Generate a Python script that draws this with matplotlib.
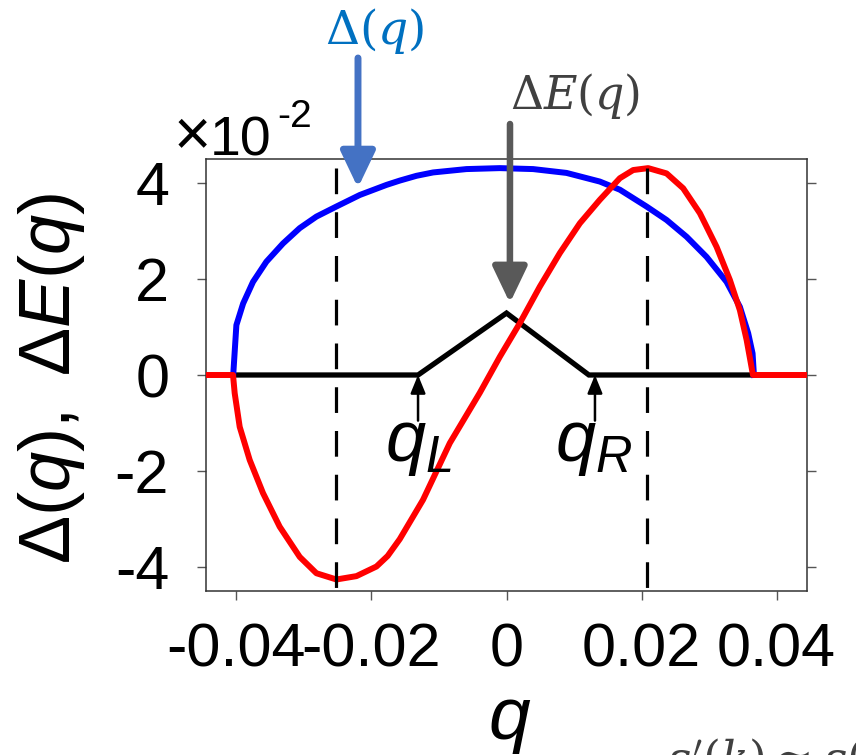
import matplotlib
matplotlib.use("Agg")
import matplotlib.pyplot as plt
from matplotlib.patches import ArrowStyle

plt.rcParams["font.family"] = ["Liberation Sans", "DejaVu Sans"]
plt.rcParams["mathtext.fontset"] = "custom"
plt.rcParams["mathtext.rm"] = "Liberation Sans"
plt.rcParams["mathtext.it"] = "Liberation Sans:italic"
plt.rcParams["mathtext.bf"] = "Liberation Sans:bold"
plt.rcParams["axes.unicode_minus"] = False
plt.rcParams["lines.scale_dashes"] = False

# Gap Delta(q), in units of 1e-2
q_gap = [-0.04047, -0.0400, -0.0390, -0.03754, -0.03556, -0.0331, -0.03062,
         -0.02815, -0.02519, -0.02173, -0.01778, -0.01581, -0.01333, -0.01087,
         -0.00593, -0.00099, 0.00394, 0.00889, 0.01382, 0.01679, 0.02074,
         0.0237, 0.02667, 0.02963, 0.03259, 0.03456, 0.03579, 0.03644, 0.03664]
gap = [0.0, 1.04, 1.49, 1.94, 2.36, 2.74, 3.06, 3.30, 3.51, 3.75, 3.96, 4.05,
       4.15, 4.22, 4.29, 4.31, 4.29, 4.21, 4.03, 3.86, 3.51, 3.23, 2.88, 2.46,
       1.94, 1.42, 0.87, 0.45, 0.0]

# Red curve, in units of 1e-2
q_red = [-0.0450, -0.0405, -0.04025, -0.03951, -0.03803, -0.03606, -0.03359,
         -0.03062, -0.02815, -0.02519, -0.02222, -0.01926, -0.0176, -0.01581,
         -0.01236, -0.0084, -0.00395, -0.00099, 0.00197, 0.00493, 0.0079,
         0.01086, 0.01382, 0.01679, 0.01876, 0.02098, 0.0237, 0.02616, 0.02864,
         0.03111, 0.03308, 0.03456, 0.03556, 0.0365, 0.0450]
red = [0.0, 0.0, -0.38, -1.08, -1.77, -2.46, -3.16, -3.79, -4.13, -4.26, -4.19,
       -3.99, -3.77, -3.42, -2.60, -1.42, -0.37, 0.38, 1.08, 1.84, 2.54, 3.16,
       3.65, 4.10, 4.27, 4.31, 4.20, 3.89, 3.37, 2.67, 1.98, 1.35, 0.73, 0.0,
       0.0]

# Energy difference Delta E(q), in units of 1e-2
q_de = [-0.0405, -0.0131, 0.0, 0.0122, 0.0363]
de = [0.0, 0.0, 1.29, 0.0, 0.0]

# Positions of the red extrema
q_extrema = [-0.0252, 0.0208]
q_marks = [-0.0131, 0.0131]
mark_labels = ["$q_L$", "$q_R$"]

xticks = [-0.04, -0.02, 0, 0.02, 0.04]
xticklabels = ["-0.04", "-0.02", "0", "0.02", "0.04"]
yticks = [-4, -2, 0, 2, 4]
yticklabels = ["-4", "-2", "0", "2", "4"]

W, H = 856, 755
fig = plt.figure(figsize=(W / 100, H / 100), dpi=100)
ax = fig.add_axes([206 / W, 1 - 591 / H, 601 / W, 432 / H])

ax.plot(q_de, de, color="black", lw=3.8, zorder=2, solid_joinstyle="miter")
ax.plot(q_gap, gap, color="#0000FF", lw=4.3, zorder=3)
ax.plot(q_red, red, color="#FF0000", lw=4.3, zorder=4)
top = max(red)
for qe in q_extrema:
    ax.plot([qe, qe], [top, -4.5], color="black", lw=2.3, dashes=(18.5, 13),
            zorder=5, clip_on=False)

ax.set_xlim(-0.0445, 0.0445)
ax.set_ylim(-4.5, 4.5)
ax.set_xticks(xticks)
ax.set_xticklabels(xticklabels)
ax.set_yticks(yticks)
ax.set_yticklabels(yticklabels)
ax.tick_params(axis="both", direction="out", length=6.5, width=1.0,
               color="#555555", labelsize=44, top=False, right=True)
ax.tick_params(axis="y", pad=20)
ax.tick_params(axis="x", pad=16)
for sp in ax.spines.values():
    sp.set_color("#333333")
    sp.set_linewidth(1.1)

ax.set_xlabel("$q$", fontsize=54)
ax.xaxis.label.set_va("baseline")
ax.xaxis.set_label_coords((510 - 206) / 601, (591 - 739) / 432)
ax.set_ylabel(r"$\Delta(q),\ \Delta E(q)$", fontsize=52, va="center", ha="center")
ax.yaxis.set_label_coords((52 - 206) / 601, (591 - 378) / 432)

# Exponent of the y axis
fig.text(174 / W, 1 - 155 / H, "\u00d7", fontsize=46, ha="left", va="baseline")
fig.text(210 / W, 1 - 155 / H, "10", fontsize=40, ha="left", va="baseline")
fig.text(277 / W, 1 - 127 / H, "-2", fontsize=28, ha="left", va="baseline")

# q_L, q_R markers
for qm, lab, xl in zip(q_marks, mark_labels, [385, 555]):
    ax.annotate("", xy=(qm, 0), xycoords="data",
                xytext=(qm, -0.95), textcoords="data",
                arrowprops=dict(arrowstyle=ArrowStyle("-|>", head_length=11, head_width=4.5),
                                mutation_scale=1, lw=1.8, color="black",
                                shrinkA=0, shrinkB=0), zorder=6)
    fig.text(xl / W, 1 - 461 / H, lab, fontsize=52, ha="left", va="baseline")

# Callout arrows above the axes
ax.annotate("", xy=(-0.0220, 3.90), xycoords="data",
            xytext=(358, H - 58), textcoords="figure pixels",
            arrowprops=dict(arrowstyle=ArrowStyle("-|>", head_length=22, head_width=10.5),
                            mutation_scale=1, lw=5.0, color="#4472C4",
                            shrinkA=0, shrinkB=0),
            annotation_clip=False, zorder=7)
ax.annotate("", xy=(0.0005, 1.50), xycoords="data",
            xytext=(510, H - 124), textcoords="figure pixels",
            arrowprops=dict(arrowstyle=ArrowStyle("-|>", head_length=22, head_width=10.5),
                            mutation_scale=1, lw=4.7, color="#595959",
                            shrinkA=0, shrinkB=0),
            annotation_clip=False, zorder=7)

fig.text(375 / W, 1 - 31 / H, r"$\Delta(q)$", fontsize=34, color="#0070C0",
         ha="center", va="center", math_fontfamily="dejavuserif")
fig.text(575 / W, 1 - 96 / H, r"$\Delta E(q)$", fontsize=33, color="#404040",
         ha="center", va="center", math_fontfamily="dejavuserif")
fig.text(666 / W, 1 - 737 / H, r"$\epsilon'(k) \simeq \epsilon($", fontsize=33,
         color="#404040", ha="left", va="top", math_fontfamily="dejavuserif")

fig.savefig("out.png", dpi=100)
